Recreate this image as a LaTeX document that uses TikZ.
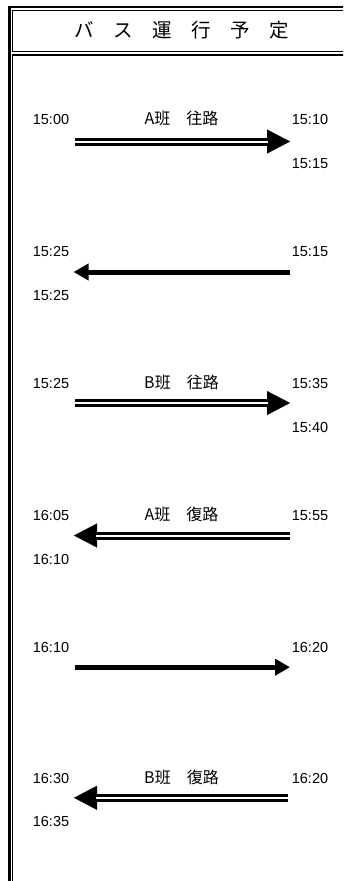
\documentclass[tikz,border=0pt]{standalone}
\usepackage{fontspec}
\newfontfamily\jpfont{Noto Sans CJK JP}
\newfontfamily\numfont{Liberation Sans}
\usetikzlibrary{arrows.meta}

\begin{document}
\begin{tikzpicture}[x=1pt, y=-1pt,
    time/.style={font=\numfont\fontsize{14.5}{17}\selectfont, anchor=base, inner sep=0pt},
    group/.style={font=\jpfont\fontsize{16}{19}\selectfont, anchor=base, inner sep=0pt},
    trip/.style={double, line width=3pt, double distance=2pt, shorten >=22pt},
    triphead/.style={-{Triangle[length=23pt, width=24pt]}, line width=0.1pt},
    move/.style={-{Triangle[length=15pt, width=16pt]}, line width=5pt}]
    \useasboundingbox (0,0) rectangle (343,881);
    \clip (0,0) rectangle (343,881);

    % frame
    \draw[line width=2.4pt] (9.5,900) -- (9.5,7) -- (360,7);
    \draw[line width=1.2pt] (12.7,51.6) -- (12.7,10.5) -- (360,10.5);
    \draw[line width=1.3pt] (12.7,51.6) -- (360,51.6);
    \draw[line width=2pt] (12,55) -- (360,55);
    \draw[line width=1.3pt] (12.7,54) -- (12.7,900);

    \node (title) at (181.5,30) {\jpfont\fontsize{19.5}{22}\selectfont バ　ス　運　行　予　定};

    % A往路
    \node[time] (dep1) at (51,124) {15:00};
    \node[group] (grp1) at (181.5,124) {A班　往路};
    \node[time] (arr1) at (310,124) {15:10};
    \node[time] (nxt1) at (310,168.5) {15:15};
    \coordinate (s1) at (75,141.5);
    \coordinate (e1) at (290,141.5);
    \draw[triphead] (s1) -- (e1);
    \draw[trip] (s1) -- (e1);

    % empty back
    \node[time] (dep2) at (310,256.7) {15:15};
    \node[time] (arr2) at (51,256.7) {15:25};
    \node[time] (nxt2) at (51,300.7) {15:25};
    \coordinate (s2) at (290,272);
    \coordinate (e2) at (73.5,272);
    \draw[move] (s2) -- (e2);

    % B往路
    \node[time] (dep3) at (51,388.7) {15:25};
    \node[group] (grp3) at (181.5,388.7) {B班　往路};
    \node[time] (arr3) at (310,388.7) {15:35};
    \node[time] (nxt3) at (310,432.3) {15:40};
    \coordinate (s3) at (75,403);
    \coordinate (e3) at (290,403);
    \draw[triphead] (s3) -- (e3);
    \draw[trip] (s3) -- (e3);

    % A復路
    \node[time] (dep4) at (310,520) {15:55};
    \node[group] (grp4) at (181.5,520) {A班　復路};
    \node[time] (arr4) at (51,520) {16:05};
    \node[time] (nxt4) at (51,564.3) {16:10};
    \coordinate (s4) at (290,535.5);
    \coordinate (e4) at (74,535.5);
    \draw[triphead] (s4) -- (e4);
    \draw[trip] (s4) -- (e4);

    % empty run
    \node[time] (dep5) at (51,652.3) {16:10};
    \node[time] (arr5) at (310,652.3) {16:20};
    \coordinate (s5) at (75,667.2);
    \coordinate (e5) at (290,667.2);
    \draw[move] (s5) -- (e5);

    % B復路
    \node[time] (dep6) at (310,783.3) {16:20};
    \node[group] (grp6) at (181.5,783.3) {B班　復路};
    \node[time] (arr6) at (51,783.3) {16:30};
    \node[time] (nxt6) at (51,826.7) {16:35};
    \coordinate (s6) at (288,797.8);
    \coordinate (e6) at (74,797.8);
    \draw[triphead] (s6) -- (e6);
    \draw[trip] (s6) -- (e6);
\end{tikzpicture}
\end{document}
